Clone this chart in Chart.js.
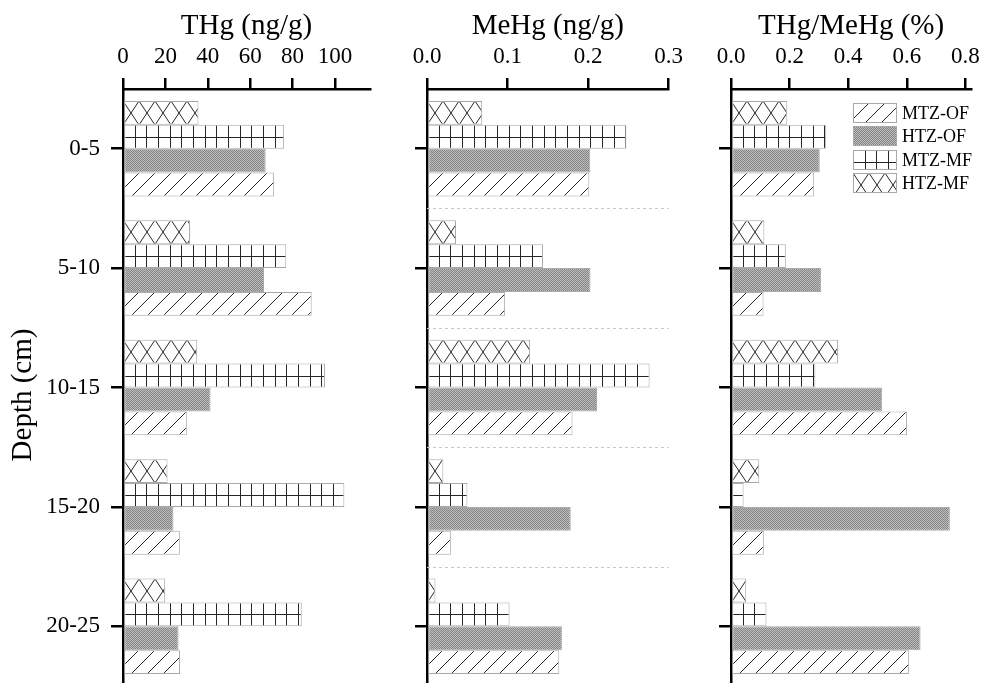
<!DOCTYPE html>
<html>
<head>
<meta charset="utf-8">
<script src="https://cdn.jsdelivr.net/npm/chart.js@4.4.0/dist/chart.umd.min.js"></script>
<style>
  html, body { margin: 0; padding: 0; background: #fff; overflow: hidden; }
  #wrap { position: relative; width: 987px; height: 683px; overflow: hidden; }
  canvas { position: absolute; top: 0; }
</style>
</head>
<body>
<div id="wrap">
  <canvas id="c1" width="395" height="686" style="left:0px"></canvas>
  <canvas id="c2" width="295" height="686" style="left:395px"></canvas>
  <canvas id="c3" width="297" height="686" style="left:690px"></canvas>
</div>
<script>
// categories + series (dataset order = top to bottom inside each depth group)
const depthLabels = ['0-5', '5-10', '10-15', '15-20', '20-25'];
const seriesNames = ['HTZ-MF', 'MTZ-MF', 'HTZ-OF', 'MTZ-OF'];
const seriesKinds = ['cross', 'grid', 'dots', 'diag'];

// THg (ng/g)
const thgHtzMf = [35.6, 31.6, 35.0, 21.0, 19.9];
const thgMtzMf = [76.0, 77.0, 95.3, 104.4, 84.3];
const thgHtzOf = [67.3, 66.5, 41.3, 23.8, 26.2];
const thgMtzOf = [71.3, 89.0, 30.1, 26.8, 26.9];

// MeHg (ng/g)
const mehgHtzMf = [0.0685, 0.036, 0.128, 0.0203, 0.0105];
const mehgMtzMf = [0.2475, 0.144, 0.2764, 0.0502, 0.1025];
const mehgHtzOf = [0.2027, 0.203, 0.2111, 0.1785, 0.1675];
const mehgMtzOf = [0.2015, 0.097, 0.1807, 0.0296, 0.1642];

// THg/MeHg (%)
const ratioHtzMf = [0.192, 0.114, 0.365, 0.0965, 0.052];
const ratioMtzMf = [0.325, 0.187, 0.288, 0.043, 0.121];
const ratioHtzOf = [0.303, 0.307, 0.516, 0.747, 0.647];
const ratioMtzOf = [0.284, 0.111, 0.601, 0.112, 0.608];

// axis ticks
const thgTicks = [0, 20, 40, 60, 80, 100];
const mehgTicks = [0, 0.1, 0.2, 0.3];
const ratioTicks = [0, 0.2, 0.4, 0.6, 0.8];

const FONT = "'Liberation Serif', 'Times New Roman', serif";

// --- hatch tiles ---
const tileCache = {};
function getTile(kind) {
  if (tileCache[kind]) return tileCache[kind];
  const size = { diag: [16, 16], dots: [2, 2], grid: [35, 24], cross: [16, 24] }[kind];
  const c = document.createElement('canvas');
  c.width = size[0]; c.height = size[1];
  const g = c.getContext('2d');
  g.fillStyle = '#fff';
  g.fillRect(0, 0, c.width, c.height);
  g.strokeStyle = '#262626';
  g.lineWidth = 1;
  if (kind === 'diag') {
    g.beginPath();
    for (const k of [0, 16, 32]) { g.moveTo(k + 2, -2); g.lineTo(k - 18, 18); }
    g.stroke();
  } else if (kind === 'dots') {
    g.fillStyle = '#bdbdbd'; g.fillRect(0, 0, 2, 2);
    g.fillStyle = '#858585'; g.fillRect(0, 0, 1, 1); g.fillRect(1, 1, 1, 1);
  } else if (kind === 'grid') {
    g.fillStyle = '#262626';
    for (const x of [0, 12, 23]) g.fillRect(x, 0, 1, 24);
    g.fillRect(0, 12, 35, 1);
  } else if (kind === 'cross') {
    g.beginPath();
    g.moveTo(-8, -12); g.lineTo(24, 36);
    g.moveTo(24, -12); g.lineTo(-8, 36);
    g.stroke();
  }
  tileCache[kind] = c;
  return c;
}

function barFill(kind) {
  return function (ctx) {
    const chart = ctx.chart;
    const pat = chart.ctx.createPattern(getTile(kind), 'repeat');
    if (ctx.type !== 'data' || !chart.chartArea) return pat;
    const ys = chart.scales.y;
    const step = ys.getPixelForValue(1) - ys.getPixelForValue(0);
    const barH = step * 0.8 / 4;
    const top = ys.getPixelForValue(ctx.dataIndex) - 2 * barH + ctx.datasetIndex * barH;
    pat.setTransform(new DOMMatrix([1, 0, 0, 1, Math.round(chart.chartArea.left), Math.round(top)]));
    return pat;
  };
}

// title over each panel
const panelTitle = {
  id: 'panelTitle',
  afterDraw(chart, args, opts) {
    const { ctx, chartArea } = chart;
    ctx.save();
    ctx.fillStyle = '#000';
    ctx.font = '29px ' + FONT;
    ctx.textAlign = 'center';
    ctx.textBaseline = 'alphabetic';
    ctx.fillText(opts.text, (chartArea.left + chartArea.right) / 2, 34);
    if (opts.yTitle) {
      ctx.translate(31, 395);
      ctx.rotate(-Math.PI / 2);
      ctx.fillText(opts.yTitle, 0, 0);
    }
    ctx.restore();
  }
};

// dashed separators (middle panel only)
const dashedRows = {
  id: 'dashedRows',
  beforeDatasetsDraw(chart, args, opts) {
    if (!opts.show) return;
    const { ctx, chartArea, scales } = chart;
    ctx.save();
    ctx.strokeStyle = '#c8c8c8';
    ctx.lineWidth = 1;
    ctx.setLineDash([3, 3]);
    for (let i = 0; i < depthLabels.length - 1; i++) {
      const y = Math.round((scales.y.getPixelForValue(i) + scales.y.getPixelForValue(i + 1)) / 2) + 0.5;
      ctx.beginPath();
      ctx.moveTo(chartArea.left, y);
      ctx.lineTo(chartArea.right, y);
      ctx.stroke();
    }
    ctx.restore();
  }
};

// legend box in the right panel
const boxLegend = {
  id: 'boxLegend',
  afterDraw(chart, args, opts) {
    if (!opts.show) return;
    const ctx = chart.ctx;
    const order = [3, 2, 1, 0];
    ctx.save();
    order.forEach((di, r) => {
      const x = 163, y = Math.round(103 + r * 23.4), w = 44, h = 20;
      const pat = ctx.createPattern(getTile(seriesKinds[di]), 'repeat');
      pat.setTransform(new DOMMatrix([1, 0, 0, 1, x, y]));
      ctx.fillStyle = pat;
      ctx.fillRect(x, y, w, h);
      ctx.strokeStyle = '#a8a8a8';
      ctx.lineWidth = 1;
      ctx.strokeRect(x + 0.5, y + 0.5, w - 1, h - 1);
      ctx.fillStyle = '#000';
      ctx.font = '18px ' + FONT;
      ctx.textAlign = 'left';
      ctx.textBaseline = 'middle';
      ctx.fillText(seriesNames[di], x + w + 5, y + h / 2 + 1);
    });
    ctx.restore();
  }
};

function makePanel(id, cfg) {
  const values = cfg.values;
  return new Chart(document.getElementById(id), {
    type: 'bar',
    data: {
      labels: depthLabels,
      datasets: seriesNames.map((name, i) => ({
        label: name,
        data: values[i],
        backgroundColor: barFill(seriesKinds[i]),
        borderColor: '#a8a8a8',
        borderWidth: 1,
        borderSkipped: false,
        barPercentage: 1.0,
        categoryPercentage: 0.8
      }))
    },
    options: {
      indexAxis: 'y',
      responsive: false,
      animation: false,
      devicePixelRatio: 1,
      layout: { autoPadding: false, padding: { left: 0, right: cfg.padRight, top: 0, bottom: 0 } },
      plugins: {
        legend: { display: false },
        tooltip: { enabled: false },
        panelTitle: { text: cfg.title, yTitle: cfg.yTitle },
        dashedRows: { show: !!cfg.dashed },
        boxLegend: { show: !!cfg.legend }
      },
      scales: {
        x: {
          position: 'top',
          min: 0,
          max: cfg.max,
          z: 1,
          afterFit: s => { s.height = 89; },
          afterBuildTicks: s => { s.ticks = cfg.ticks.map(v => ({ value: v })); },
          ticks: {
            color: '#000',
            font: { family: FONT, size: 23 },
            padding: 7,
            maxRotation: 0,
            autoSkip: false,
            callback: v => cfg.fmt(v)
          },
          grid: { drawOnChartArea: false, drawTicks: true, tickLength: 11, lineWidth: 2.5, color: '#000' },
          border: { display: true, width: 2.5, color: '#000' }
        },
        y: {
          z: 1,
          afterFit: s => { s.width = cfg.yWidth; s.paddingTop = 0; s.paddingBottom = 0; },
          ticks: {
            display: !!cfg.yLabels,
            color: '#000',
            font: { family: FONT, size: 23 },
            padding: 11
          },
          grid: { offset: false, drawOnChartArea: false, drawTicks: true, tickLength: 12, lineWidth: 2.5, color: '#000' },
          border: { display: true, width: 2.5, color: '#000' }
        }
      }
    },
    plugins: [dashedRows, panelTitle, boxLegend]
  });
}

makePanel('c1', {
  title: 'THg (ng/g)', yTitle: 'Depth (cm)', yLabels: true,
  values: [thgHtzMf, thgMtzMf, thgHtzOf, thgMtzOf],
  max: 116.5, ticks: thgTicks, fmt: v => String(Math.round(v)),
  yWidth: 123, padRight: 25
});

makePanel('c2', {
  title: 'MeHg (ng/g)', dashed: true,
  values: [mehgHtzMf, mehgMtzMf, mehgHtzOf, mehgMtzOf],
  max: 0.3, ticks: mehgTicks, fmt: v => v.toFixed(1),
  yWidth: 32, padRight: 17
});

makePanel('c3', {
  title: 'THg/MeHg (%)', legend: true,
  values: [ratioHtzMf, ratioMtzMf, ratioHtzOf, ratioMtzOf],
  max: 0.82, ticks: ratioTicks, fmt: v => v.toFixed(1),
  yWidth: 41, padRight: 10
});
</script>
</body>
</html>
